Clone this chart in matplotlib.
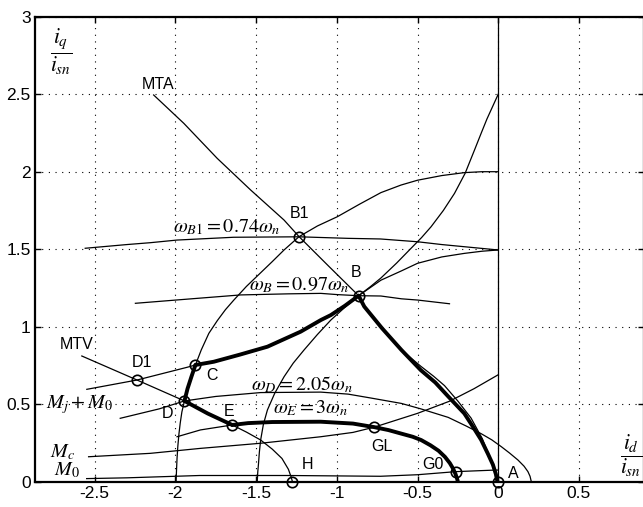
import matplotlib
matplotlib.use("Agg")
import matplotlib.pyplot as plt

plt.rcParams['font.family'] = ['Liberation Sans', 'DejaVu Sans']
plt.rcParams['mathtext.fontset'] = 'stix'

# curves in the (id/isn, iq/isn) plane
mta_x = [-2.135, -1.948, -1.741, -1.534, -1.327, -1.234, -1.05, -0.865]
mta_y = [2.495, 2.312, 2.086, 1.882, 1.688, 1.581, 1.39, 1.2]

mta_tail_x = [-0.60, -0.48, -0.40, -0.333, -0.25, -0.168, -0.10, -0.05, -0.015, 0.0]
mta_tail_y = [0.85, 0.745, 0.68, 0.62, 0.52, 0.41, 0.28, 0.15, 0.04, 0.0]

ba_x = [-0.865, -0.83, -0.72, -0.60, -0.48, -0.39, -0.31, -0.21, -0.16, -0.106, -0.064, -0.033, -0.015, -0.005]
ba_y = [1.2, 1.13, 0.99, 0.85, 0.72, 0.64, 0.55, 0.44, 0.36, 0.27, 0.18, 0.11, 0.05, 0.0]

# arc through D, C, B1 up to (0, 2)
arc1_x = [-1.996, -1.993, -1.99, -1.985, -1.978, -1.97, -1.96, -1.944, -1.925, -1.90, -1.876,
          -1.84, -1.793, -1.74, -1.69, -1.638, -1.56, -1.48, -1.40, -1.327, -1.234, -1.12,
          -0.996, -0.86, -0.727, -0.602, -0.50, -0.35, -0.21, -0.10, 0.0]
arc1_y = [0.0, 0.08, 0.15, 0.23, 0.31, 0.38, 0.45, 0.521, 0.60, 0.68, 0.753,
          0.85, 0.957, 1.04, 1.11, 1.172, 1.26, 1.34, 1.42, 1.495, 1.581, 1.65,
          1.71, 1.79, 1.865, 1.914, 1.945, 1.975, 1.994, 2.0, 2.0]

# arc through B up to (0, 2.5)
arc2_x = [-1.493, -1.49, -1.485, -1.48, -1.472, -1.455, -1.43, -1.385, -1.327, -1.27, -1.203,
          -1.12, -1.037, -0.95, -0.865, -0.79, -0.727, -0.63, -0.54, -0.475, -0.416, -0.34,
          -0.271, -0.205, -0.147, -0.105, -0.07, -0.035, 0.0]
arc2_y = [0.0, 0.06, 0.12, 0.19, 0.269, 0.37, 0.463, 0.57, 0.677, 0.765, 0.85,
          0.95, 1.043, 1.125, 1.2, 1.26, 1.314, 1.41, 1.506, 1.575, 1.645, 1.75,
          1.86, 1.99, 2.14, 2.25, 2.34, 2.42, 2.5]

# thick C -> B
cb_x = [-1.876, -1.762, -1.60, -1.43, -1.224, -1.099, -1.037, -0.95, -0.865]
cb_y = [0.753, 0.774, 0.82, 0.871, 0.968, 1.043, 1.075, 1.135, 1.2]

# B -> (0, 1.5)
b_end_x = [-0.865, -0.727, -0.60, -0.50, -0.35, -0.21, -0.10, 0.0]
b_end_y = [1.2, 1.30, 1.36, 1.409, 1.45, 1.473, 1.487, 1.495]

# omega_B1 curve
wb1_x = [-2.559, -2.30, -2.155, -1.99, -1.64, -1.234, -0.93, -0.73, -0.50, -0.35, -0.21, -0.10, 0.0]
wb1_y = [1.506, 1.53, 1.542, 1.559, 1.577, 1.58, 1.57, 1.566, 1.548, 1.53, 1.516, 1.505, 1.495]

# omega_B curve
wb_x = [-2.248, -1.90, -1.596, -1.30, -1.099, -0.996, -0.865, -0.727, -0.60, -0.50, -0.302]
wb_y = [1.151, 1.18, 1.205, 1.212, 1.215, 1.207, 1.2, 1.198, 1.18, 1.172, 1.148]

# D1 curve up to C
d1_x = [-2.549, -2.238, -1.928, -1.876]
d1_y = [0.596, 0.656, 0.738, 0.753]

# MTV
mtv_x = [-2.58, -2.238, -1.944]
mtv_y = [0.811, 0.656, 0.521]
de_x = [-1.944, -1.80, -1.648]
de_y = [0.521, 0.44, 0.366]
eh_x = [-1.648, -1.56, -1.472, -1.40, -1.34, -1.30, -1.283, -1.275]
eh_y = [0.366, 0.32, 0.269, 0.21, 0.15, 0.08, 0.03, 0.0]

# M_j + M_0 / omega_D curve
wd_x = [-2.342, -2.10, -1.944, -1.75, -1.472, -1.10, -0.93, -0.79, -0.60, -0.48, -0.31, -0.20,
        -0.106, -0.04, 0.019, 0.07, 0.122, 0.16, 0.184, 0.197, 0.205]
wd_y = [0.409, 0.47, 0.521, 0.55, 0.575, 0.578, 0.565, 0.54, 0.505, 0.47, 0.415, 0.36,
        0.31, 0.27, 0.226, 0.185, 0.14, 0.10, 0.065, 0.035, 0.0]

# omega_E curve: thin start then thick
we_thin_x = [-1.99, -1.845, -1.648]
we_thin_y = [0.29, 0.334, 0.366]
we_x = [-1.648, -1.55, -1.40, -1.10, -0.90, -0.768, -0.68, -0.60, -0.53, -0.478, -0.42, -0.37,
        -0.33, -0.30, -0.28, -0.265, -0.255, -0.25]
we_y = [0.366, 0.378, 0.385, 0.387, 0.375, 0.352, 0.333, 0.31, 0.29, 0.269, 0.235, 0.20,
        0.16, 0.12, 0.085, 0.05, 0.02, 0.0]

# torque lines
mc_x = [-2.538, -2.155, -1.845, -1.472, -1.10, -0.90, -0.768, -0.50, -0.30, -0.15, 0.0]
mc_y = [0.161, 0.183, 0.215, 0.248, 0.29, 0.318, 0.352, 0.441, 0.52, 0.60, 0.69]
m0_x = [-2.55, -2.30, -1.85, -1.30, -0.73, -0.50, -0.261, -0.02, 0.0]
m0_y = [0.02, 0.025, 0.04, 0.04, 0.035, 0.045, 0.065, 0.075, 0.075]

# operating points
pt_names = ['B1', 'B', 'C', 'D1', 'D', 'E', 'GL', 'G0', 'A', 'H']
pt_x = [-1.234, -0.865, -1.876, -2.238, -1.944, -1.648, -0.768, -0.261, 0.0, -1.275]
pt_y = [1.581, 1.2, 0.753, 0.656, 0.521, 0.366, 0.352, 0.065, 0.0, 0.0]
lbl_x = [-1.23, -0.88, -1.776, -2.205, -2.05, -1.665, -0.72, -0.404, 0.093, -1.18]
lbl_y = [1.73, 1.35, 0.682, 0.769, 0.437, 0.45, 0.23, 0.114, 0.05, 0.114]

fig = plt.figure(figsize=(6.43, 5.07), dpi=100)
ax = fig.add_axes([35 / 643, (507 - 481.7) / 507, (643.5 - 35) / 643, (481.7 - 16.7) / 507])

thin = dict(color='k', lw=0.9)
thick = dict(color='k', lw=2.8, solid_capstyle='round', solid_joinstyle='round')

ax.plot(mta_x, mta_y, **thin)
ax.plot(mta_tail_x, mta_tail_y, **thin)
ax.plot(arc1_x, arc1_y, **thin)
ax.plot(arc2_x, arc2_y, **thin)
ax.plot(b_end_x, b_end_y, **thin)
ax.plot(wb1_x, wb1_y, **thin)
ax.plot(wb_x, wb_y, **thin)
ax.plot(d1_x, d1_y, **thin)
ax.plot(mtv_x, mtv_y, **thin)
ax.plot(eh_x, eh_y, **thin)
ax.plot(wd_x, wd_y, **thin)
ax.plot(we_thin_x, we_thin_y, **thin)
ax.plot(mc_x, mc_y, **thin)
ax.plot(m0_x, m0_y, **thin)
ax.plot([0, 0], [0, 3], **thin)

# thick operating path
ax.plot(ba_x, ba_y, **thick)
ax.plot(cb_x, cb_y, **thick)
ax.plot(arc1_x[7:11], arc1_y[7:11], **thick)
ax.plot(de_x, de_y, **thick)
ax.plot(we_x, we_y, **thick)

ax.plot(pt_x, pt_y, 'o', ms=7.5, mfc='none', mec='k', mew=1.2, clip_on=False)
for name, x, y in zip(pt_names, lbl_x, lbl_y):
    ax.text(x, y, name, ha='center', va='center', fontsize=11.5)

ax.text(-2.11, 2.56, 'MTA', ha='center', va='center', fontsize=11.5)
ax.text(-2.61, 0.887, 'MTV', ha='center', va='center', fontsize=11.5)

ax.text(-1.68, 1.64, r'$\omega_{B1} = 0.74\omega_n$', ha='center', va='center', fontsize=14.5)
ax.text(-1.23, 1.27, r'$\omega_B = 0.97\omega_n$', ha='center', va='center', fontsize=14.5)
ax.text(-1.213, 0.624, r'$\omega_D = 2.05\omega_n$', ha='center', va='center', fontsize=14.5)
ax.text(-1.16, 0.474, r'$\omega_E = 3\omega_n$', ha='center', va='center', fontsize=14.5)
ax.text(-2.596, 0.495, r'$M_j + M_0$', ha='center', va='center', fontsize=14.5)
ax.text(-2.70, 0.19, r'$M_c$', ha='center', va='center', fontsize=14.5)
ax.text(-2.67, 0.075, r'$M_0$', ha='center', va='center', fontsize=14.5)

ax.text(-2.71, 2.77, r'$\dfrac{i_q}{i_{sn}}$', ha='center', va='center', fontsize=15.5)
ax.text(0.826, 0.165, r'$\dfrac{i_d}{i_{sn}}$', ha='center', va='center', fontsize=15.5)

ax.set_xlim(-2.87, 0.9)
ax.set_ylim(0, 3)
ax.set_xticks([-2.5, -2, -1.5, -1, -0.5, 0, 0.5])
ax.set_xticklabels(['-2.5', '-2', '-1.5', '-1', '-0.5', '0', '0.5'])
ax.set_yticks([0, 0.5, 1, 1.5, 2, 2.5, 3])
ax.set_yticklabels(['0', '0.5', '1', '1.5', '2', '2.5', '3'])
ax.tick_params(direction='in', length=4, width=1, top=True, right=True, labelsize=12.5, pad=3)
ax.grid(True, color='k', linestyle=(0, (1, 5)), linewidth=0.8)
for sp in ax.spines.values():
    sp.set_linewidth(1.6)

fig.savefig('out.png', dpi=100)
